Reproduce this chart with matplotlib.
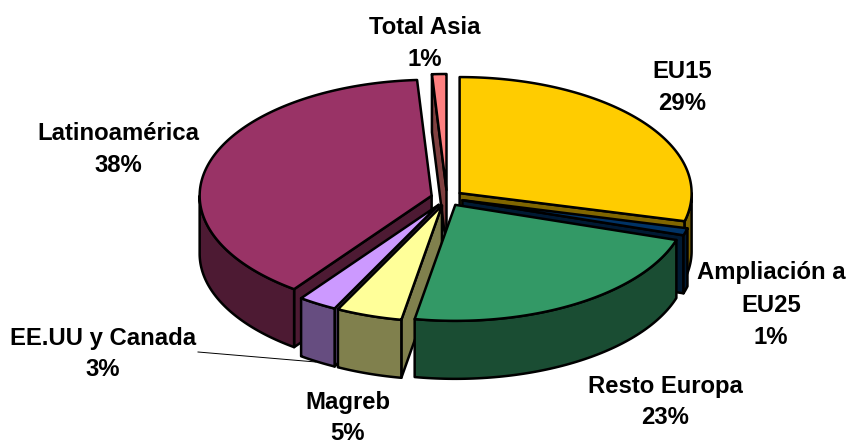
import numpy as np
import matplotlib
matplotlib.use('Agg')
import matplotlib.pyplot as plt

plt.rcParams['font.family'] = ['Liberation Sans', 'DejaVu Sans']

# datos de la tarta
regiones = ['EU15', 'Ampliación a EU25', 'Resto Europa', 'Magreb', 'EE.UU y Canada', 'Latinoamérica', 'Total Asia']
valores = [28.9, 1.0, 22.9, 4.6, 2.7, 38.9, 1.0]
etiquetas = ['EU15\n29%', 'Ampliación a\nEU25\n1%', 'Resto Europa\n23%', 'Magreb\n5%',
             'EE.UU y Canada\n3%', 'Latinoamérica\n38%', 'Total Asia\n1%']
colores = ['#FFCC00', '#003366', '#339966', '#FFFF99', '#CC99FF', '#993366', '#FF8080']
oscuros = ['#806600', '#001A33', '#1A4D33', '#80804D', '#664D80', '#4D1A33', '#804040']
pos_etiquetas = [(682, 87), (771, 305), (665, 402), (348, 418), (103, 354), (118, 150), (425, 43)]

# geometria del pie en pixeles
cx, cy = 447, 198
rx, ry = 232, 116
alto = 58
explode = 16
lw = 1.8

fig = plt.figure(figsize=(8.5, 4.43), dpi=100)
ax = fig.add_axes([0, 0, 1, 1])
ax.set_xlim(0, 850)
ax.set_ylim(443, 0)
ax.axis('off')

def punto(ang, ox, oy):
    return ox + rx * np.sin(ang), oy - ry * np.cos(ang)

def poligono(xs, ys, color):
    ax.fill(xs, ys, facecolor=color, edgecolor='black', linewidth=lw, joinstyle='round')

total = sum(valores)
fin = np.cumsum(valores) / total * 2 * np.pi
ini = fin - np.array(valores) / total * 2 * np.pi

# orden de pintado: de atras hacia delante
for i in [6, 5, 4, 3, 0, 1, 2]:
    a, b = ini[i], fin[i]
    m = (a + b) / 2
    ox = cx + explode * np.sin(m)
    oy = cy - explode * np.cos(m) * ry / rx

    # caras de corte
    if np.sin(a) < -1e-6:
        px, py = punto(a, ox, oy)
        poligono([ox, px, px, ox], [oy, py, py + alto, oy + alto], oscuros[i])
    if np.sin(b) > 1e-6:
        px, py = punto(b, ox, oy)
        poligono([ox, px, px, ox], [oy, py, py + alto, oy + alto], oscuros[i])

    # pared exterior
    a2, b2 = max(a, np.pi / 2), min(b, 3 * np.pi / 2)
    if b2 > a2:
        t = np.linspace(a2, b2, 80)
        px, py = punto(t, ox, oy)
        poligono(np.r_[px, px[::-1]], np.r_[py, py[::-1] + alto], oscuros[i])

    # tapa
    t = np.linspace(a, b, 150)
    px, py = punto(t, ox, oy)
    poligono(np.r_[ox, px], np.r_[oy, py], colores[i])

# linea guia de EE.UU y Canada
ax.plot([198, 316], [352, 362], color='black', linewidth=0.7)

for texto, (x, y) in zip(etiquetas, pos_etiquetas):
    ax.text(x, y, texto, ha='center', va='center', fontsize=17.2, fontweight='bold', linespacing=1.5)

fig.savefig('out.png', dpi=100)
